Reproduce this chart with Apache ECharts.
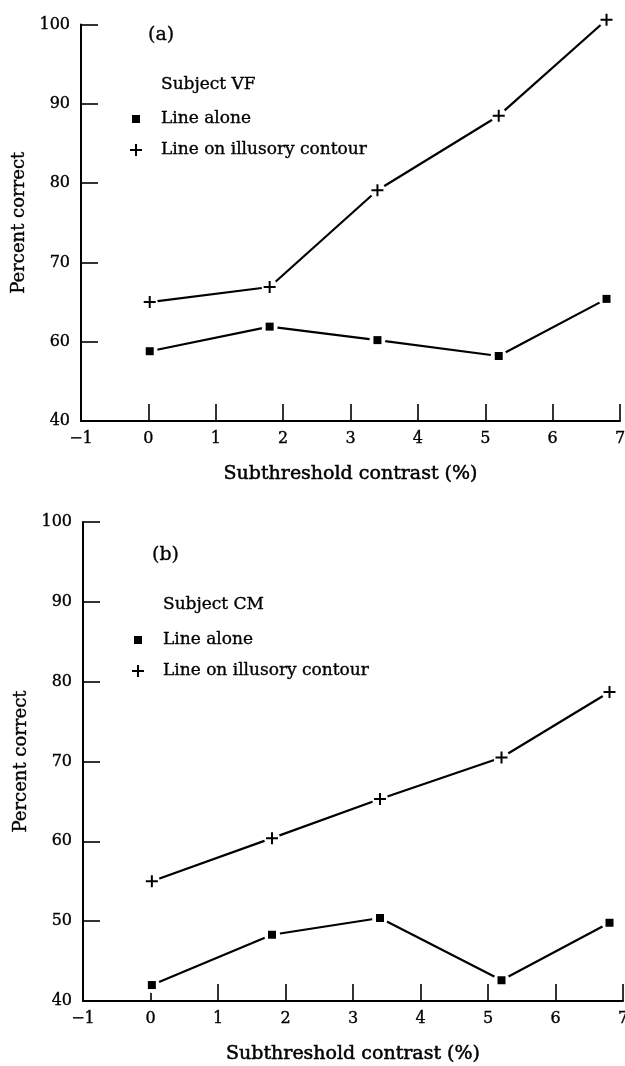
<!DOCTYPE html>
<html>
<head>
<meta charset="utf-8">
<script src="https://cdn.jsdelivr.net/npm/echarts@6/dist/echarts.min.js"></script>
<style>html,body{margin:0;padding:0;background:#fff}#c{width:625px;height:1066px}</style>
</head>
<body>
<div id="c"></div>
<script>
// ---- data ----
const xA = [0.02, 1.8, 3.4, 5.2, 6.8];
const aloneA = [58.8, 61.9, 60.2, 58.2, 65.4];
const illusoryA = [65.0, 66.9, 79.1, 88.5, 100.6];

const xB = [0.02, 1.8, 3.4, 5.2, 6.8];
const aloneB = [42.0, 48.3, 50.4, 42.6, 49.8];
const illusoryB = [55.0, 60.4, 65.3, 70.5, 78.7];

// top panel uses a broken axis: the lowest tick (at 50) is labelled "40"
const yTicksA = [50, 60, 70, 80, 90, 100];
const yTickLabelsA = ['40', '60', '70', '80', '90', '100'];
const yTicksB = [40, 50, 60, 70, 80, 90, 100];
const yTickLabelsB = ['40', '50', '60', '70', '80', '90', '100'];
const xTicks = [-1, 0, 1, 2, 3, 4, 5, 6, 7];
const xTickLabels = ['\u22121', '0', '1', '2', '3', '4', '5', '6', '7'];

const names = { alone: 'Line alone', illusory: 'Line on illusory contour' };
const xName = 'Subthreshold contrast (%)';
const yName = 'Percent correct';

// ---- styling ----
const FONT = 'DejaVu Serif';
const INK = '#000';
const plusPath = 'path://M5,0H7V5H12V7H7V12H5V7H0V5H5Z';
const heavy = { textBorderColor: INK, textBorderWidth: 0.35 };

function pairs(xs, ys) { return xs.map((x, i) => [x, ys[i]]); }
function lbl(ticks, labels) { return v => { const i = ticks.indexOf(v); return i >= 0 ? labels[i] : ''; }; }

function xAxis(gi) {
  return {
    type: 'value', gridIndex: gi, min: -1, max: 7, interval: 1,
    name: xName, nameLocation: 'middle', nameGap: 44,
    nameTextStyle: Object.assign({ fontFamily: FONT, fontSize: 19, color: INK }, heavy, { textBorderWidth: 0.5 }),
    axisLine: { onZero: false, lineStyle: { color: INK, width: 2 } },
    axisTick: { inside: true, length: 17, lineStyle: { color: INK, width: 1.6 } },
    axisLabel: Object.assign({ fontFamily: FONT, fontSize: 16, color: INK, margin: 10, formatter: lbl(xTicks, xTickLabels) }, heavy),
    splitLine: { show: false }
  };
}
function yAxis(gi, min, ticks, labels, gap) {
  return {
    type: 'value', gridIndex: gi, min: min, max: 100, interval: 10,
    name: yName, nameLocation: 'middle', nameGap: gap,
    nameTextStyle: Object.assign({ fontFamily: FONT, fontSize: 18, color: INK }, heavy),
    axisLine: { onZero: false, lineStyle: { color: INK, width: 2 } },
    axisTick: { inside: true, length: 17, lineStyle: { color: INK, width: 1.6 } },
    axisLabel: Object.assign({ fontFamily: FONT, fontSize: 16, color: INK, margin: 11, formatter: lbl(ticks, labels) }, heavy),
    splitLine: { show: false }
  };
}
function panelSeries(gi, xs, alone, illusory) {
  const out = [];
  [[alone, names.alone, 'rect', 8], [illusory, names.illusory, plusPath, 12]].forEach(([ys, nm, sym, sz]) => {
    out.push({ type: 'line', name: nm + ' trace', xAxisIndex: gi, yAxisIndex: gi, data: pairs(xs, ys),
      showSymbol: false, clip: false, silent: true, z: 2, lineStyle: { color: INK, width: 2.2 } });
    out.push({ type: 'scatter', name: nm + ' gap', xAxisIndex: gi, yAxisIndex: gi, data: pairs(xs, ys),
      symbol: 'circle', symbolSize: 16, clip: false, silent: true, z: 3, itemStyle: { color: '#fff', opacity: 1 } });
    out.push({ type: 'scatter', name: nm, xAxisIndex: gi, yAxisIndex: gi, data: pairs(xs, ys),
      symbol: sym, symbolSize: sz, clip: false, z: 4, itemStyle: { color: INK, opacity: 1 } });
  });
  return out;
}
function legend(name, icon, size, left, centerY, padLeft) {
  return { data: [name], icon: icon, itemWidth: size, itemHeight: size, left: left, top: centerY - 10,
    selectedMode: false, orient: 'vertical', padding: 0,
    itemStyle: { opacity: 1 },
    textStyle: Object.assign({ fontFamily: FONT, fontSize: 17, color: INK, lineHeight: 20, padding: [0, 0, 0, padLeft] }, heavy) };
}
function label(text, left, centerY, size) {
  return { text: text, left: left, top: centerY - size / 2 - 2, padding: 0,
    textStyle: Object.assign({ fontFamily: FONT, fontSize: size, fontWeight: 'normal', color: INK }, heavy) };
}

const chart = echarts.init(document.getElementById('c'), null, { renderer: 'canvas' });
chart.setOption({
  backgroundColor: '#fff',
  animation: false,
  title: [
    label('(a)', 148, 37, 19),
    label('Subject VF', 161, 87, 17),
    label('(b)', 152, 557, 19),
    label('Subject CM', 163, 607, 17)
  ],
  legend: [
    legend(names.alone, 'rect', 8, 132, 119, 16),
    legend(names.illusory, plusPath, 12, 130, 150, 14),
    legend(names.alone, 'rect', 8, 134, 640, 16),
    legend(names.illusory, plusPath, 12, 132, 671, 14)
  ],
  grid: [
    { left: 81, right: 5, top: 24.5, height: 396.5, outerBoundsMode: 'none' },
    { left: 83, right: 2, top: 522, height: 479, outerBoundsMode: 'none' }
  ],
  xAxis: [xAxis(0), xAxis(1)],
  yAxis: [yAxis(0, 50, yTicksA, yTickLabelsA, 51), yAxis(1, 40, yTicksB, yTickLabelsB, 50)],
  series: [].concat(panelSeries(0, xA, aloneA, illusoryA), panelSeries(1, xB, aloneB, illusoryB))
});
</script>
</body>
</html>
